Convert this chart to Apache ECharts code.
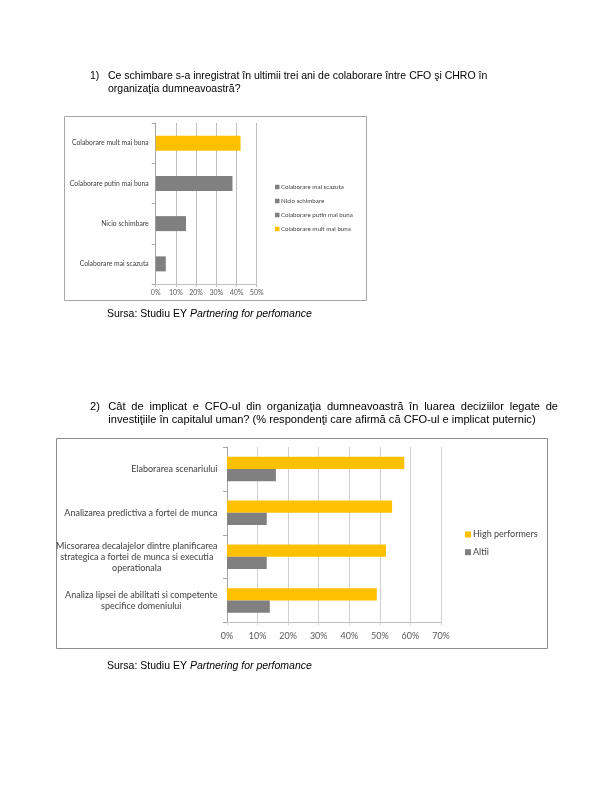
<!DOCTYPE html>
<html>
<head>
<meta charset="utf-8">
<script src="https://cdn.jsdelivr.net/npm/echarts@6/dist/echarts.min.js"></script>
<style>
html,body{margin:0;padding:0;background:#fff;}
#c{width:612px;height:792px;}
</style>
</head>
<body>
<div id="c"></div>
<script>
// Chart 1 data (bottom to top on the category axis)
const cats1 = ['Colaborare mai scazuta', 'Nicio schimbare', 'Colaborare putin mai buna', 'Colaborare mult mai buna'];
const vals1 = [5, 15, 38, 42];
const ticks1 = [0, 10, 20, 30, 40, 50];

// Chart 2 data (bottom to top)
const cats2 = [
  'Analiza lipsei de abilitati si competente\nspecifice domeniului',
  'Micsorarea decalajelor dintre planificarea\nstrategica a fortei de munca si executia\noperationala',
  'Analizarea predictiva a fortei de munca',
  'Elaborarea scenariului'
];
const highPerf = [49, 52, 54, 58];
const altii = [14, 13, 13, 16];
const ticks2 = [0, 10, 20, 30, 40, 50, 60, 70];

const q1 = ['1)', 'Ce schimbare s-a inregistrat în ultimii trei ani de colaborare între CFO şi CHRO în', 'organizaţia dumneavoastră?'];
const q2 = ['2)', 'Cât de implicat e CFO-ul din organizaţia dumneavoastră în luarea deciziilor legate de', 'investiţiile în capitalul uman? (% respondenţi care afirmă că CFO-ul e implicat puternic)'];
const src = 'Sursa: Studiu EY ';
const srcIt = 'Partnering for perfomance';

const YEL = '#FFC000', GRY = '#808080';
const CF = 'Lato, "Open Sans", sans-serif';
const AF = '"Liberation Sans", Arial, sans-serif';

const chart = echarts.init(document.getElementById('c'), null, {renderer: 'canvas'});

const series1 = cats1.map((name, i) => ({
  name: name,
  type: 'bar',
  xAxisIndex: 0, yAxisIndex: 0,
  stack: 's1',
  barWidth: 15,
  itemStyle: {color: i === 3 ? YEL : GRY},
  data: cats1.map((c, j) => j === i ? vals1[i] : '-')
}));

const mctx = document.createElement('canvas').getContext('2d');
function justified(text, x0, x1, y, font) {
  mctx.font = font;
  const words = text.split(' ');
  const ws = words.map(w => mctx.measureText(w).width);
  const sum = ws.reduce((a, b) => a + b, 0);
  const gap = (x1 - x0 - sum) / (words.length - 1);
  let x = x0;
  return words.map((w, i) => {
    const el = {type: 'text', x: x, y: y, style: {text: w, font: font, fill: '#000', textVerticalAlign: 'middle'}};
    x += ws[i] + gap;
    return el;
  });
}
function plain(text, x, y, font) {
  return {type: 'text', x: x, y: y, style: {text: text, font: font, fill: '#000', textVerticalAlign: 'middle'}};
}
function srcText(y) {
  return {
    type: 'text', x: 107, y: y,
    style: {
      text: '{a|' + src + '}{b|' + srcIt + '}',
      textVerticalAlign: 'middle',
      rich: {
        a: {font: '10.5px ' + AF, fill: '#000'},
        b: {font: 'italic 10.5px ' + AF, fill: '#000'}
      }
    }
  };
}
const F1 = '10.5px ' + AF;
const F2 = '11.1px ' + AF;

const option = {
  animation: false,
  backgroundColor: '#fff',
  graphic: [
    {type: 'rect', shape: {x: 64.5, y: 116.5, width: 302, height: 184}, style: {fill: 'none', stroke: '#A6A6A6', lineWidth: 1}, z: -1},
    {type: 'rect', shape: {x: 56.5, y: 438.5, width: 491, height: 210}, style: {fill: 'none', stroke: '#8C8C8C', lineWidth: 1}, z: -1},
    plain(q1[0], 90, 76, F1),
    plain(q1[1], 108, 76, F1),
    plain(q1[2], 108, 89.5, F1),
    plain(q2[0], 90, 406.5, F2),
    ...justified(q2[1], 108.3, 558, 406.5, F2),
    plain(q2[2], 108.3, 419.5, F2),
    srcText(314.5),
    srcText(666)
  ],
  legend: [
    {
      orient: 'vertical', left: 270, top: 179, padding: 5,
      itemWidth: 4.5, itemHeight: 4.5, itemGap: 8, icon: 'rect',
      textStyle: {fontFamily: CF, fontSize: 6.2, color: '#404040', lineHeight: 6, padding: [0, 0, 0, -3.5]},
      data: ['Colaborare mai scazuta', 'Nicio schimbare', 'Colaborare putin mai buna', 'Colaborare mult mai buna']
    },
    {
      orient: 'vertical', left: 460, top: 525, padding: 5,
      itemWidth: 6, itemHeight: 6, itemGap: 8.7, icon: 'rect',
      textStyle: {fontFamily: CF, fontSize: 9, color: '#404040', lineHeight: 9, padding: [0, 0, 0, -3]},
      data: ['High performers', 'Altii']
    }
  ],
  grid: [
    {left: 155.7, top: 123, width: 101, height: 161},
    {left: 227, top: 447, width: 214, height: 175.5}
  ],
  xAxis: [
    {
      gridIndex: 0, type: 'value', min: 0, max: 50, interval: 10,
      axisLine: {show: true, lineStyle: {color: '#BFBFBF'}},
      axisTick: {show: true, length: 3, lineStyle: {color: '#BFBFBF'}},
      splitLine: {show: true, lineStyle: {color: '#BFBFBF'}},
      axisLabel: {formatter: v => ticks1.includes(v) ? v + '%' : '', fontFamily: CF, fontSize: 7, color: '#595959', margin: 5}
    },
    {
      gridIndex: 1, type: 'value', min: 0, max: 70, interval: 10,
      axisLine: {show: true, lineStyle: {color: '#BFBFBF'}},
      axisTick: {show: true, length: 3, lineStyle: {color: '#D9D9D9'}},
      splitLine: {show: true, lineStyle: {color: '#D0D0D0'}},
      axisLabel: {formatter: v => ticks2.includes(v) ? v + '%' : '', fontFamily: CF, fontSize: 9, color: '#595959', margin: 9}
    }
  ],
  yAxis: [
    {
      gridIndex: 0, type: 'category', data: cats1,
      axisLine: {show: true, lineStyle: {color: '#A6A6A6'}},
      axisTick: {show: true, length: 4, lineStyle: {color: '#A6A6A6'}},
      axisLabel: {fontFamily: CF, fontSize: 6.8, color: '#404040', margin: 7}
    },
    {
      gridIndex: 1, type: 'category', data: cats2,
      axisLine: {show: true, lineStyle: {color: '#A6A6A6'}},
      axisTick: {show: true, length: 4, lineStyle: {color: '#A6A6A6'}},
      axisLabel: {
        margin: 9.5,
        formatter: v => v.split('\n').map(l => '{c|' + l + '}').join('\n'),
        rich: {c: {align: 'center', fontFamily: CF, fontSize: 9, color: '#404040', lineHeight: 11}}
      }
    }
  ],
  series: [
    ...series1,
    {
      name: 'High performers', type: 'bar', xAxisIndex: 1, yAxisIndex: 1,
      barWidth: 12.3, barGap: '0%', itemStyle: {color: YEL}, data: highPerf
    },
    {
      name: 'Altii', type: 'bar', xAxisIndex: 1, yAxisIndex: 1,
      barWidth: 12.3, barGap: '0%', itemStyle: {color: GRY}, data: altii
    }
  ]
};
chart.setOption(option);
</script>
</body>
</html>
